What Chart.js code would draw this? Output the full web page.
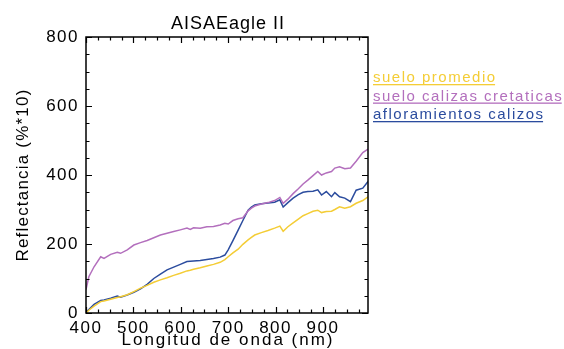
<!DOCTYPE html>
<html><head><meta charset="utf-8">
<script src="https://cdn.jsdelivr.net/npm/chart.js@4/dist/chart.umd.min.js"></script>
<style>html,body{margin:0;padding:0;background:#fff;}canvas{display:block;}</style>
</head><body>
<canvas id="c" width="564" height="349" style="width:564px;height:349px"></canvas>
<script>
const wavelengths = [400,406,417,431,438,452,466,473,487,501,515,529,543,557,571,585,599,613,620,627,641,655,669,683,693,700,710,721,731,742,749,756,770,784,798,809,816,826,837,848,858,868,879,889,897,907,918,925,935,946,958,970,984,995];
const sueloPromedio = [0,8,20,33,35,40,45,47,53,62,72,80,89,96,102,109,115,122,124,127,131,136,141,147,155,163,174,185,199,212,219,226,233,239,246,252,237,250,261,272,282,288,295,298,291,294,295,300,308,304,308,318,326,337];
const sueloCalizas = [68,105,134,163,158,170,176,173,183,197,204,210,218,226,231,236,241,246,242,247,246,250,251,255,260,258,268,273,276,296,304,310,316,320,326,335,318,330,346,360,374,385,398,410,400,406,410,420,424,418,420,440,465,475];
const afloramientos = [3,10,25,36,38,43,49,46,52,60,70,83,100,113,125,133,141,149,150,151,152,155,158,162,168,183,210,240,268,298,307,313,317,319,321,328,307,320,333,343,350,352,353,357,342,352,337,349,337,333,323,356,362,381];
const seriesNames = ['suelo promedio','suelo calizas cretaticas','afloramientos calizos'];
const seriesColors = ['#f4cd36','#b36fbd','#2b4c9e'];
const xTickValues = [400,500,600,700,800,900];
const yTickValues = [0,200,400,600,800];
const chartTitle = 'AISAEagle II';
const xTitle = 'Longitud de onda (nm)';
const yTitle = 'Reflectancia (%*10)';

const seriesValues = [sueloPromedio, sueloCalizas, afloramientos];
const FONT = '"Liberation Sans", Arial, sans-serif';

const decor = {
  id: 'decor',
  beforeDraw(chart) { chart.ctx.letterSpacing = '1.5px'; },
  afterDraw(chart) {
    const ctx = chart.ctx, a = chart.chartArea;
    const xs = chart.scales.x, ys = chart.scales.y;
    ctx.save();
    ctx.strokeStyle = '#000';
    ctx.lineWidth = 1.5;
    ctx.strokeRect(a.left, a.top, a.right - a.left, a.bottom - a.top);
    ctx.lineWidth = 1.2;
    ctx.beginPath();
    for (let v = 400; v < xs.max; v += 25) {
      const px = Math.round(xs.getPixelForValue(v)) + 0.5;
      const len = (v % 100 === 0) ? 6 : 3.5;
      ctx.moveTo(px, a.bottom); ctx.lineTo(px, a.bottom - len);
      ctx.moveTo(px, a.top); ctx.lineTo(px, a.top + len);
    }
    for (let v = 0; v <= ys.max; v += 50) {
      const py = Math.round(ys.getPixelForValue(v)) + 0.5;
      const len = (v % 200 === 0) ? 6 : 3.5;
      ctx.moveTo(a.left, py); ctx.lineTo(a.left + len, py);
      ctx.moveTo(a.right, py); ctx.lineTo(a.right - len, py);
    }
    ctx.stroke();
    // titles
    ctx.fillStyle = '#000';
    ctx.textAlign = 'center';
    ctx.textBaseline = 'alphabetic';
    ctx.letterSpacing = '1px';
    ctx.font = '18px ' + FONT;
    ctx.fillText(chartTitle, (a.left + a.right) / 2 + 1, 29);
    ctx.letterSpacing = '2px';
    ctx.font = '17px ' + FONT;
    ctx.fillText(xTitle, (a.left + a.right) / 2 + 1, 345);
    ctx.save();
    ctx.translate(28, (a.top + a.bottom) / 2);
    ctx.rotate(-Math.PI / 2);
    ctx.letterSpacing = '1.2px';
    ctx.fillText(yTitle, 0, 0);
    ctx.restore();
    // legend
    ctx.textAlign = 'left';
    ctx.font = '15px ' + FONT;
    ctx.letterSpacing = '1.5px';
    const baselines = [82, 100.5, 119];
    seriesNames.forEach((n, i) => {
      ctx.fillStyle = seriesColors[i];
      ctx.fillText(n, 373, baselines[i]);
      const w = ctx.measureText(n).width - 1.5;
      ctx.fillRect(373, baselines[i] + 2, w, 1.3);
    });
    ctx.restore();
  }
};

new Chart(document.getElementById('c'), {
  type: 'line',
  data: {
    datasets: seriesValues.map((vals, i) => ({
      label: seriesNames[i],
      data: wavelengths.map((w, j) => ({x: w, y: vals[j]})),
      borderColor: seriesColors[i],
      borderWidth: 1.5,
      pointRadius: 0,
      tension: 0,
      fill: false
    }))
  },
  options: {
    responsive: false,
    devicePixelRatio: 1,
    animation: false,
    layout: {padding: {left: 0, right: 196, top: 37, bottom: 0}},
    plugins: {legend: {display: false}, title: {display: false}, tooltip: {enabled: false}},
    scales: {
      x: {
        type: 'linear', min: 400, max: 995,
        grid: {display: false, drawTicks: false},
        border: {display: false},
        afterBuildTicks: s => { s.ticks = xTickValues.map(v => ({value: v})); },
        afterFit: s => { s.height = 36; },
        ticks: {padding: 5, color: '#000', maxRotation: 0, autoSkip: false, font: {family: FONT, size: 17}}
      },
      y: {
        type: 'linear', min: 0, max: 800,
        grid: {display: false, drawTicks: false},
        border: {display: false},
        afterBuildTicks: s => { s.ticks = yTickValues.map(v => ({value: v})); },
        afterFit: s => { s.width = 86; },
        ticks: {padding: 7, color: '#000', font: {family: FONT, size: 17}}
      }
    }
  },
  plugins: [decor]
});
</script>
</body></html>
